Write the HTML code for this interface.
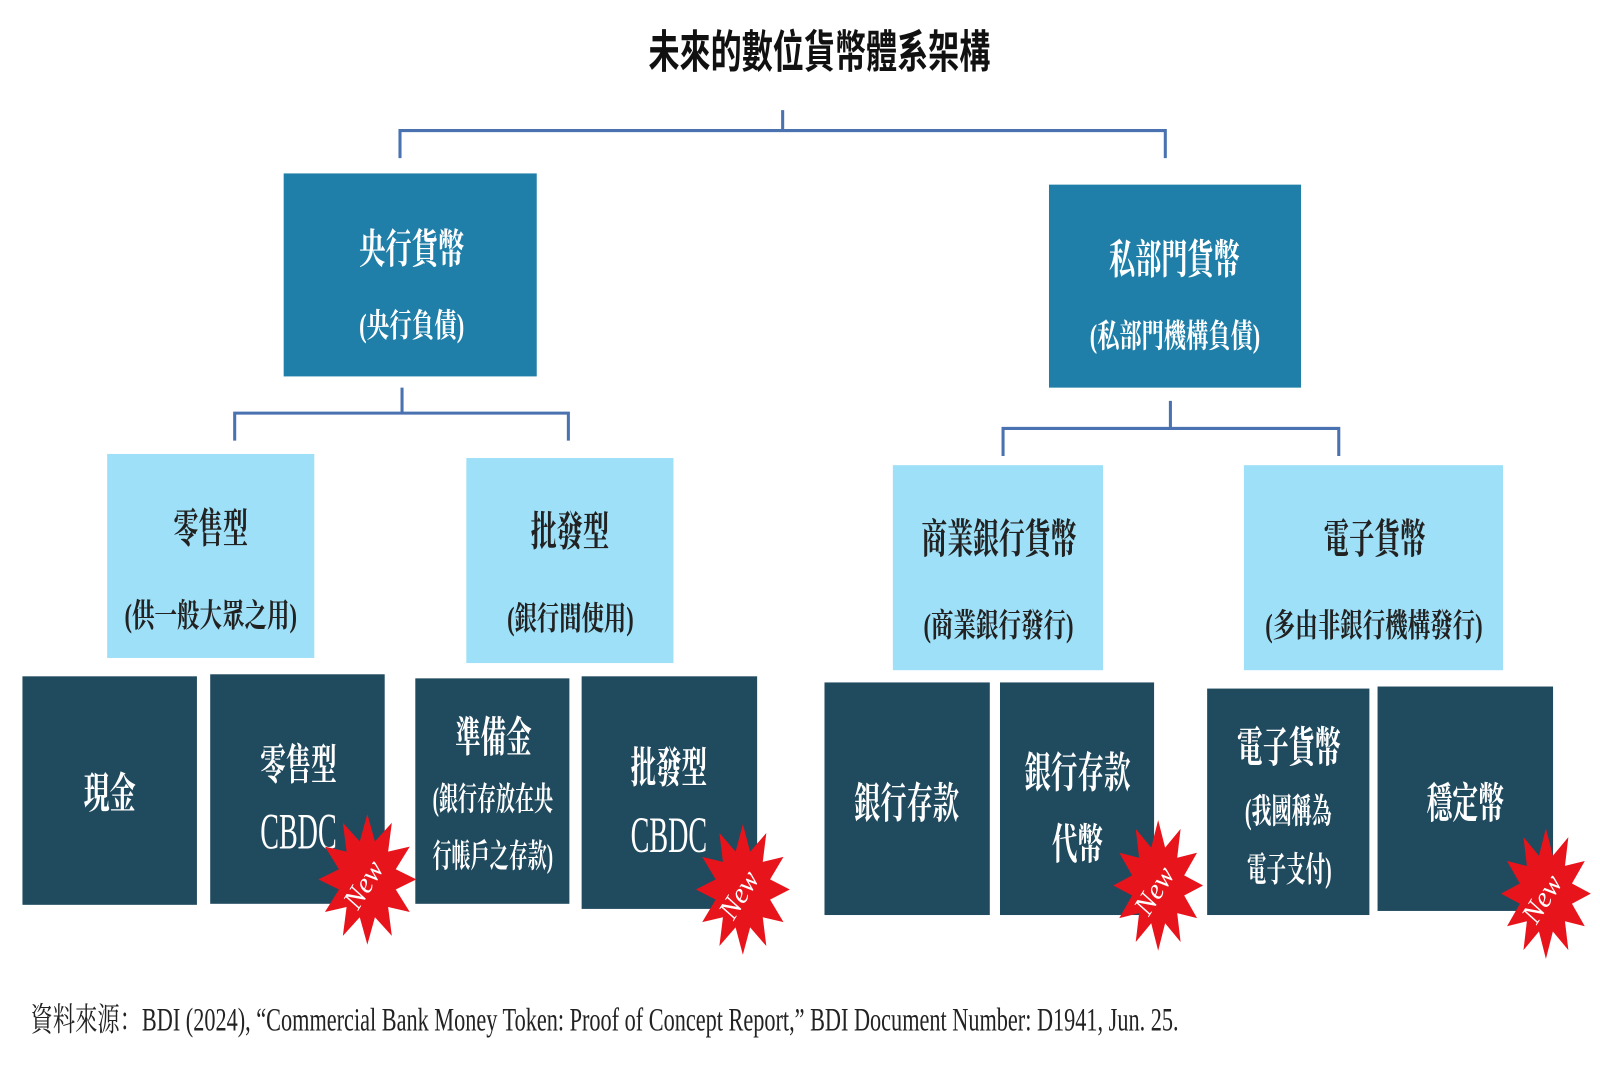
<!DOCTYPE html>
<html><head><meta charset="utf-8"><style>
html,body{margin:0;padding:0;background:#fff;}
svg{display:block}
text{font-family:"Liberation Serif","Noto Serif CJK SC","Noto Sans CJK TC",serif;}
.c{font-family:"Liberation Sans","Noto Sans CJK TC",sans-serif;font-weight:bold;}
</style></head><body>
<svg width="1600" height="1066" viewBox="0 0 1568 1045" preserveAspectRatio="none" xmlns="http://www.w3.org/2000/svg">
<defs>
<polygon id="star" points="1,0 .58,.155 .866,.5 .424,.424 .5,.866 .155,.58 0,1 -.155,.58 -.5,.866 -.424,.424 -.866,.5 -.58,.155 -1,0 -.58,-.155 -.866,-.5 -.424,-.424 -.5,-.866 -.155,-.58 0,-1 .155,-.58 .5,-.866 .424,-.424 .866,-.5 .58,-.155"/>
</defs>
<text x="803" y="66" text-anchor="middle" class="c" font-size="44" fill="#111" textLength="335" lengthAdjust="spacingAndGlyphs">未來的數位貨幣體系架構</text>
<g fill="none" stroke="#4a72b0" stroke-width="3">
<path d="M392 155 V128 H1142 V155 M767 128 V108"/>
<path d="M230 432 V405 H557 V432 M394 405 V380"/>
<path d="M983 447 V420 H1312 V447 M1147 420 V393"/>
</g>
<rect x="278" y="170" width="248" height="199" fill="#1f7fa8"/>
<rect x="1028" y="181" width="247" height="199" fill="#1f7fa8"/>
<g fill="#fff" class="c" lengthAdjust="spacingAndGlyphs">
<text x="352" y="258" font-size="40" textLength="103" lengthAdjust="spacingAndGlyphs">央行貨幣</text>
<text x="352" y="330" font-size="32" textLength="103" lengthAdjust="spacingAndGlyphs">(央行負債)</text>
<text x="1087" y="268" font-size="40" textLength="128" lengthAdjust="spacingAndGlyphs">私部門貨幣</text>
<text x="1068" y="340" font-size="32" textLength="167" lengthAdjust="spacingAndGlyphs">(私部門機構負債)</text>
</g>
<g fill="#9ee0f8">
<rect x="105" y="445" width="203" height="200"/>
<rect x="457" y="449" width="203" height="201"/>
<rect x="875" y="456" width="206" height="201"/>
<rect x="1219" y="456" width="254" height="201"/>
</g>
<g fill="#222" class="c">
<text x="170" y="532" font-size="40" textLength="73" lengthAdjust="spacingAndGlyphs">零售型</text>
<text x="122" y="614" font-size="32" textLength="169" lengthAdjust="spacingAndGlyphs">(供一般大眾之用)</text>
<text x="520" y="535" font-size="40" textLength="77" lengthAdjust="spacingAndGlyphs">批發型</text>
<text x="497" y="617" font-size="32" textLength="124" lengthAdjust="spacingAndGlyphs">(銀行間使用)</text>
<text x="903" y="542" font-size="40" textLength="152" lengthAdjust="spacingAndGlyphs">商業銀行貨幣</text>
<text x="905" y="624" font-size="32" textLength="147" lengthAdjust="spacingAndGlyphs">(商業銀行發行)</text>
<text x="1297" y="542" font-size="40" textLength="100" lengthAdjust="spacingAndGlyphs">電子貨幣</text>
<text x="1240" y="624" font-size="32" textLength="213" lengthAdjust="spacingAndGlyphs">(多由非銀行機構發行)</text>
</g>
<g fill="#204a5e">
<rect x="22" y="663" width="171" height="224"/>
<rect x="206" y="661" width="171" height="225"/>
<rect x="407" y="665" width="151" height="221"/>
<rect x="570" y="663" width="172" height="228"/>
<rect x="808" y="669" width="162" height="228"/>
<rect x="980" y="669" width="151" height="228"/>
<rect x="1183" y="675" width="159" height="222"/>
<rect x="1350" y="673" width="172" height="220"/>
</g>
<g fill="#fff" class="c">
<text x="82" y="792" font-size="42" textLength="51" lengthAdjust="spacingAndGlyphs">現金</text>
<text x="255" y="764" font-size="42" textLength="75" lengthAdjust="spacingAndGlyphs">零售型</text>
<text x="446" y="737" font-size="42" textLength="75" lengthAdjust="spacingAndGlyphs">準備金</text>
<text x="424" y="794" font-size="32" textLength="118" lengthAdjust="spacingAndGlyphs">(銀行存放在央</text>
<text x="424" y="850" font-size="32" textLength="118" lengthAdjust="spacingAndGlyphs">行帳戶之存款)</text>
<text x="618" y="767" font-size="42" textLength="75" lengthAdjust="spacingAndGlyphs">批發型</text>
<text x="837" y="802" font-size="42" textLength="103" lengthAdjust="spacingAndGlyphs">銀行存款</text>
<text x="1004" y="772" font-size="42" textLength="104" lengthAdjust="spacingAndGlyphs">銀行存款</text>
<text x="1031" y="842" font-size="42" textLength="50" lengthAdjust="spacingAndGlyphs">代幣</text>
<text x="1212" y="747" font-size="42" textLength="102" lengthAdjust="spacingAndGlyphs">電子貨幣</text>
<text x="1220" y="807" font-size="34" textLength="85" lengthAdjust="spacingAndGlyphs">(我國稱為</text>
<text x="1222" y="864" font-size="34" textLength="83" lengthAdjust="spacingAndGlyphs">電子支付)</text>
<text x="1398" y="802" font-size="42" textLength="76" lengthAdjust="spacingAndGlyphs">穩定幣</text>
</g>
<g fill="#fff" font-size="50">
<text x="255" y="832" textLength="75" lengthAdjust="spacingAndGlyphs">CBDC</text>
<text x="618" y="835" textLength="75" lengthAdjust="spacingAndGlyphs">CBDC</text>
</g>
<g fill="#e8141b">
<use href="#star" transform="translate(360,862) scale(48,64)"/>
<use href="#star" transform="translate(728,872) scale(46,64)"/>
<use href="#star" transform="translate(1135,868) scale(44,64)"/>
<use href="#star" transform="translate(1515,876) scale(44,64)"/>
</g>
<g fill="#fff" font-size="28" font-style="italic" text-anchor="middle">
<text transform="translate(364,872) rotate(-58)">New</text>
<text transform="translate(732,882) rotate(-58)">New</text>
<text transform="translate(1139,878) rotate(-58)">New</text>
<text transform="translate(1519,886) rotate(-58)">New</text>
</g>
<text x="30" y="1010" font-size="32" fill="#222" textLength="1125" lengthAdjust="spacingAndGlyphs">資料來源：BDI (2024), “Commercial Bank Money Token: Proof of Concept Report,” BDI Document Number: D1941, Jun. 25.</text>
</svg>
</body></html>
